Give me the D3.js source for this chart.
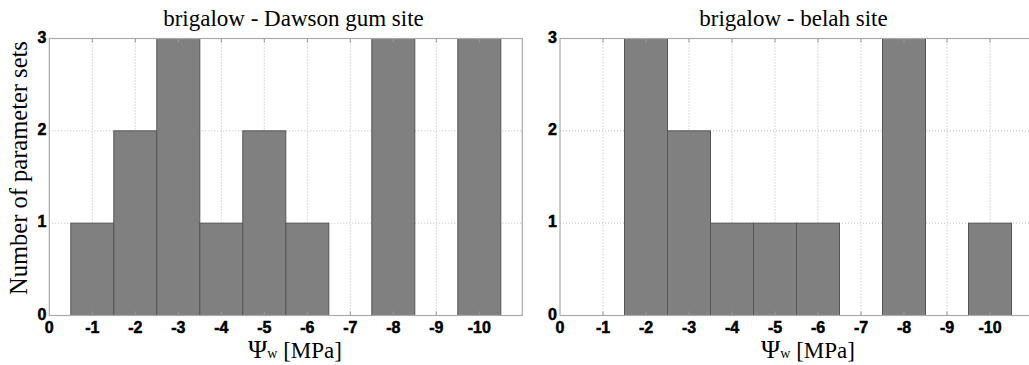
<!DOCTYPE html>
<html><head><meta charset="utf-8">
<script src="https://cdn.jsdelivr.net/npm/d3@7/dist/d3.min.js"></script>
<style>body{margin:0;background:#fff}svg{display:block}
.serif{font-family:'Liberation Serif','Times New Roman',serif}
.sans{font-family:'Liberation Sans',Arial,sans-serif;font-weight:bold;stroke:#000;stroke-width:0.5px}
</style>
</head><body>
<svg id="c" width="1029" height="365"></svg>
<script>
const categories = [1,2,3,4,5,6,7,8,9,10];
const tickLabels = ["0","-1","-2","-3","-4","-5","-6","-7","-8","-9","-10"];
const dawsonCounts = [1,2,3,1,2,1,0,3,0,3];
const belahCounts  = [0,3,2,1,1,1,0,3,0,1];
const yTicks = [0,1,2,3];
const titles = ["brigalow - Dawson gum site","brigalow - belah site"];

const svg = d3.select("#c");
const panels = [
  {x0:49.3, x1:522.3, counts:dawsonCounts, title:titles[0], tcx:293.5, lcx:295, ylab:true},
  {x0:560,  x1:1033,  counts:belahCounts,  title:titles[1], tcx:793.5, lcx:808, ylab:false}
];
const yTop = 38.5, yBot = 315.5;

panels.forEach(p => {
  const g = svg.append("g");
  const x = d3.scaleLinear().domain([0,11]).range([p.x0,p.x1]);
  const y = d3.scaleLinear().domain([0,3]).range([yBot,yTop]);
  g.selectAll(".vg").data(categories).enter().append("line")
    .attr("x1",d=>x(d)).attr("x2",d=>x(d)).attr("y1",yTop).attr("y2",yBot)
    .attr("stroke","#bbb").attr("stroke-width",1).attr("stroke-dasharray","1,2");
  g.selectAll(".hg").data([1,2]).enter().append("line")
    .attr("x1",p.x0).attr("x2",p.x1).attr("y1",d=>y(d)).attr("y2",d=>y(d))
    .attr("stroke","#bbb").attr("stroke-width",1).attr("stroke-dasharray","1,2");
  g.selectAll(".bar").data(categories.map((c,i)=>({c,v:p.counts[i]})).filter(d=>d.v>0)).enter().append("rect")
    .attr("x",d=>x(d.c-0.5)).attr("width",d=>x(d.c+0.5)-x(d.c-0.5))
    .attr("y",d=>y(d.v)).attr("height",d=>y(0)-y(d.v))
    .attr("fill","#808080").attr("stroke","#555").attr("stroke-width",1);
  g.append("rect").attr("x",p.x0).attr("y",yTop).attr("width",p.x1-p.x0).attr("height",yBot-yTop)
    .attr("fill","none").attr("stroke","#aaa").attr("stroke-width",1.2);
  g.selectAll(".tt").data(categories).enter().append("line")
    .attr("x1",d=>x(d)).attr("x2",d=>x(d)).attr("y1",yTop).attr("y2",yTop+4)
    .attr("stroke","#999");
  g.selectAll(".tb").data(categories).enter().append("line")
    .attr("x1",d=>x(d)).attr("x2",d=>x(d)).attr("y1",yBot).attr("y2",yBot-4)
    .attr("stroke","#999");
  g.append("g").selectAll("text").data(d3.range(0,11)).enter().append("text")
    .attr("class","sans").attr("x",d=>x(d)).attr("y",333).attr("text-anchor","middle")
    .attr("font-size",16).text((d,i)=>tickLabels[i]);
  g.selectAll(".yl").data(yTicks).enter().append("text")
    .attr("class","sans").attr("x",p.x0-3).attr("y",d=>y(d)+4).attr("text-anchor","end")
    .attr("font-size",16).text(d=>d);
  g.append("text").attr("class","serif").attr("x",p.tcx).attr("y",26).attr("text-anchor","middle")
    .attr("font-size",23).text(p.title);
  const xl = g.append("text").attr("class","serif").attr("x",p.lcx).attr("y",358).attr("text-anchor","middle")
    .attr("font-size",23);
  xl.append("tspan").attr("font-size",26).text("Ψ");
  xl.append("tspan").attr("font-size",14).text("w");
  xl.append("tspan").text(" [MPa]");
  if (p.ylab) {
    g.append("text").attr("class","serif").attr("transform","translate(27,168) rotate(-90)").attr("text-anchor","middle")
      .attr("font-size",24.5).text("Number of parameter sets");
  }
});
</script>
</body></html>
